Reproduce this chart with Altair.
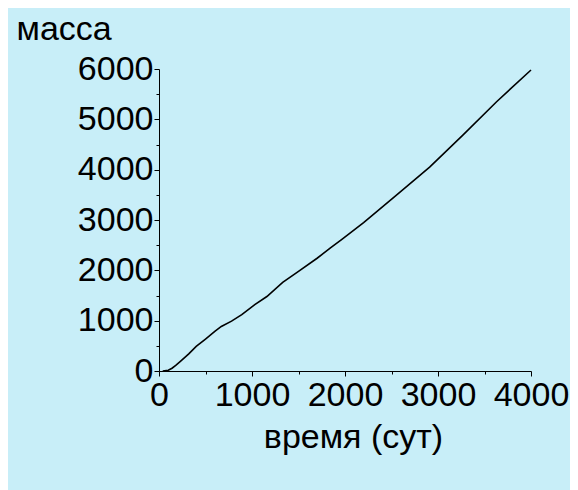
import altair as alt
import pandas as pd

time_days = [40, 100, 140, 180, 230, 320, 400, 500, 600, 670, 780, 890, 1030, 1160,
             1330, 1500, 1700, 1840, 1970, 2200, 2550, 2910, 3270, 3630, 4000]
mass = [0, 15, 55, 110, 190, 340, 490, 635, 785, 885, 990, 1120, 1320, 1480,
        1760, 1980, 2240, 2440, 2620, 2950, 3490, 4050, 4690, 5350, 5980]

x_ticks = [0, 500, 1000, 1500, 2000, 2500, 3000, 3500, 4000]
y_ticks = [0, 500, 1000, 1500, 2000, 2500, 3000, 3500, 4000, 4500, 5000, 5500, 6000]

df = pd.DataFrame({"t": time_days, "m": mass})

FONT = "Liberation Sans"
tick_cond = {"condition": {"test": "datum.value % 1000 === 0", "value": 5}, "value": 3}
label_expr = "datum.value % 1000 === 0 ? datum.label : ''"

chart = alt.Chart(df).mark_line(color="black", strokeWidth=1.6).encode(
    x=alt.X("t:Q",
            scale=alt.Scale(domain=[0, 4000], nice=False),
            axis=alt.Axis(values=x_ticks, format="d", labelExpr=label_expr,
                          labelOverlap=False, labelFlush=False,
                          title="время (сут)", titleX=194, titleY=76,
                          titleAlign="center", titleBaseline="alphabetic",
                          tickSize=tick_cond, labelPadding=2)),
    y=alt.Y("m:Q",
            scale=alt.Scale(domain=[0, 6000], nice=False),
            axis=alt.Axis(values=y_ticks, format="d", labelExpr=label_expr,
                          labelOverlap=False, labelFlush=False,
                          title="масса", titleAngle=0, titleX=-143, titleY=-30,
                          titleAlign="left", titleBaseline="alphabetic",
                          tickSize=tick_cond, labelPadding=1)),
    order="t:Q",
).properties(
    width=372,
    height=302,
    autosize=alt.AutoSizeParams(type="none"),
    padding={"left": 151, "top": 61, "right": 39, "bottom": 119},
    background="#C8EEF8",
).configure_view(
    stroke=None
).configure_axis(
    grid=False,
    domainColor="black",
    domainWidth=1,
    tickColor="black",
    tickWidth=1,
    labelFont=FONT,
    labelFontSize=34,
    labelColor="black",
    titleFont=FONT,
    titleFontSize=34,
    titleFontWeight="normal",
    titleColor="black",
)

chart.save("out.html", embed_options={"renderer": "svg", "actions": False})
